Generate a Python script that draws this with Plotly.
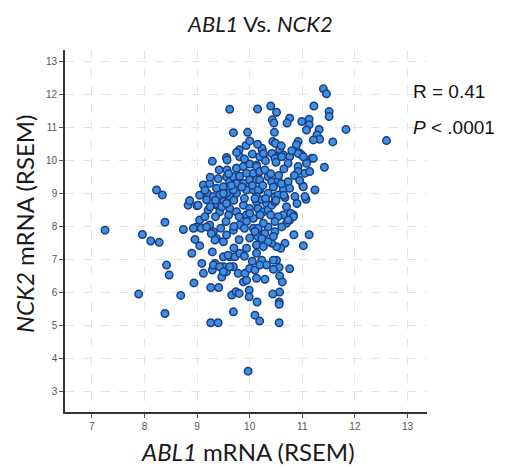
import plotly.graph_objects as go

# (ABL1, NCK2) mRNA RSEM values
outer_points = [
    (9.62, 11.56), (9.69, 10.85), (9.96, 10.86), (9.80, 10.33), (9.93, 10.46), (9.81, 10.12),
    (9.56, 10.10), (9.57, 10.02), (9.29, 9.98), (9.42, 9.72), (9.57, 9.72), (9.75, 9.77),
    (9.56, 9.51), (9.62, 9.36), (9.12, 9.26), (9.24, 9.31), (9.19, 9.01), (9.37, 9.16),
    (9.50, 9.21), (8.23, 9.11), (8.34, 8.96), (8.86, 8.78), (8.83, 8.65), (9.00, 8.63),
    (9.21, 8.50), (8.39, 8.13), (7.25, 7.89), (7.96, 7.76), (8.12, 7.56), (8.28, 7.52),
    (8.74, 7.91), (8.99, 7.99), (8.96, 7.61), (8.90, 7.19), (9.05, 7.42), (8.42, 6.83),
    (8.47, 6.53), (9.09, 6.88), (9.12, 6.58), (8.94, 6.29), (9.29, 7.23), (9.34, 6.88),
    (9.29, 6.68), (9.26, 6.15), (9.41, 6.15), (7.89, 5.95), (8.69, 5.91), (8.39, 5.36),
    (9.26, 5.08), (9.40, 5.08), (9.69, 5.41), (9.66, 5.92), (9.74, 6.02), (9.80, 5.97),
    (9.88, 6.32), (9.94, 6.37), (9.99, 6.07), (9.99, 5.87), (9.50, 7.08), (9.62, 7.08),
    (9.50, 6.78), (9.56, 6.63), (9.47, 6.47), (9.69, 6.78), (9.97, 3.61), (10.10, 5.31),
    (10.19, 5.13), (10.56, 5.08), (10.14, 5.71), (10.56, 5.71), (10.56, 5.64), (10.57, 6.01),
    (10.44, 5.95), (10.29, 6.40), (10.57, 6.50), (10.62, 6.32), (10.76, 6.72), (10.51, 6.98),
    (10.56, 6.76), (10.45, 6.70), (10.84, 7.75), (11.13, 7.75), (11.02, 7.42), (10.67, 7.49),
    (10.59, 7.34), (10.51, 7.39), (10.42, 7.49), (10.83, 8.35), (10.64, 8.35), (10.76, 8.20),
    (11.07, 8.83), (11.01, 9.23), (11.42, 9.80), (11.40, 12.18), (11.46, 12.03), (10.40, 11.66),
    (10.15, 11.57), (11.22, 11.66), (11.51, 11.49), (11.51, 11.34), (10.51, 11.47), (10.43, 11.24),
    (10.46, 11.14), (10.76, 11.29), (10.71, 11.14), (10.99, 11.19), (11.13, 11.26), (11.13, 11.09),
    (11.08, 10.93), (11.32, 10.95), (11.28, 10.78), (11.33, 10.65), (11.21, 10.63), (11.83, 10.95),
    (12.60, 10.61), (11.58, 10.57), (10.47, 10.86), (10.44, 10.58), (10.49, 10.53), (10.92, 10.58),
    (10.89, 10.48), (10.24, 10.33), (10.26, 10.17), (10.57, 10.33), (10.64, 10.17), (10.51, 10.12),
    (10.94, 10.24), (10.99, 10.17), (11.18, 10.07), (11.08, 9.92), (10.19, 10.12),
]

core_points = [
    (9.75, 9.77), (9.88, 9.82), (10.00, 9.90), (10.13, 9.87), (9.69, 9.51), (9.81, 9.53),
    (9.94, 9.62), (10.07, 9.62), (10.19, 9.67), (9.75, 9.31), (9.88, 9.31), (10.00, 9.41),
    (10.13, 9.41), (9.50, 8.91), (9.62, 8.91), (9.75, 9.01), (9.94, 9.11), (10.07, 9.11),
    (10.19, 9.11), (10.23, 10.38), (10.26, 10.22), (10.42, 10.22), (10.48, 10.07), (10.61, 10.12),
    (10.76, 10.12), (10.92, 10.22), (11.02, 10.12), (11.21, 10.07), (10.92, 9.82), (10.73, 9.92),
    (10.92, 9.67), (11.05, 9.62), (11.14, 9.67), (10.13, 9.82), (10.19, 9.67), (10.29, 9.72),
    (10.35, 9.51), (10.19, 9.41), (10.42, 9.36), (10.54, 9.41), (10.73, 9.36), (10.64, 9.11),
    (10.76, 9.16), (11.02, 9.21), (11.24, 9.11), (10.16, 9.11), (10.35, 9.01), (10.48, 8.91),
    (10.86, 8.91), (11.05, 8.91), (8.86, 8.78), (9.02, 8.65), (9.18, 8.81), (9.37, 8.65),
    (9.43, 8.45), (9.50, 8.75), (9.62, 8.55), (9.75, 8.45), (9.88, 8.65), (10.00, 8.55),
    (10.13, 8.75), (10.19, 8.45), (9.94, 8.35), (10.07, 8.25), (9.05, 8.20), (9.08, 7.95),
    (8.93, 7.95), (9.24, 8.05), (9.31, 7.84), (9.37, 7.64), (9.50, 7.54), (9.59, 7.13),
    (9.72, 7.08), (9.81, 7.19), (9.94, 7.34), (10.13, 7.44), (9.56, 7.74), (9.69, 7.89),
    (9.81, 8.05), (9.94, 8.15), (10.07, 7.95), (10.16, 7.74), (9.31, 6.83), (9.43, 6.78),
    (9.50, 6.63), (9.62, 6.78), (9.78, 6.58), (9.91, 6.58), (10.00, 6.73), (10.10, 6.68),
    (10.13, 8.91), (10.23, 8.81), (10.32, 8.70), (10.16, 8.55), (10.26, 8.45), (10.35, 8.50),
    (10.42, 8.65), (10.48, 8.75), (10.54, 8.96), (10.67, 8.88), (10.78, 8.40), (10.83, 8.30),
    (10.70, 8.10), (10.73, 8.20), (10.54, 8.30), (10.48, 8.15), (10.61, 7.99), (10.35, 7.99),
    (10.16, 7.95), (10.26, 8.10), (10.48, 7.84), (10.29, 7.79), (10.16, 7.69), (10.35, 7.54),
    (10.26, 7.39), (10.23, 7.64), (10.13, 7.19), (10.23, 6.98), (10.32, 6.83), (10.45, 6.98),
    (10.19, 6.83), (10.13, 6.43), (9.37, 8.70), (9.47, 8.60), (9.56, 8.70), (9.18, 7.99),
    (9.27, 7.79), (9.34, 7.59), (9.31, 8.91), (9.43, 8.96), (9.56, 9.01), (9.69, 9.11),
]

fill_points = [
    (9.65, 9.25), (9.85, 9.20), (10.05, 9.25), (10.25, 9.25), (10.45, 9.20), (10.60, 9.30),
    (9.70, 8.80), (9.90, 8.85), (10.10, 8.85), (10.30, 8.85), (10.50, 8.80), (9.60, 8.35),
    (9.80, 8.30), (10.00, 8.40), (10.20, 8.35), (10.40, 8.35), (9.70, 8.00), (9.90, 7.95),
    (10.10, 7.85), (10.45, 7.70), (9.45, 7.95), (9.55, 8.15), (9.35, 8.30), (9.25, 8.60),
    (9.15, 8.30), (9.80, 7.60), (10.00, 7.65), (9.70, 7.35), (9.90, 7.10), (10.05, 6.95),
    (10.40, 9.60), (10.55, 9.55), (10.65, 9.75), (10.85, 9.55), (10.30, 10.00), (10.50, 9.95),
    (9.40, 9.45), (9.25, 9.50), (9.50, 9.00), (9.35, 8.80), (9.05, 8.95), (9.15, 9.10),
    (10.70, 8.60), (10.90, 8.70), (10.65, 8.95), (10.95, 9.40), (10.80, 10.30), (10.60, 10.45),
    (9.60, 9.60), (9.75, 10.25), (9.90, 10.05), (10.05, 10.20), (10.15, 10.50), (10.00, 10.60),
]

all_points = outer_points + core_points + fill_points
abl1 = [p[0] for p in all_points]
nck2 = [p[1] for p in all_points]

x_ticks = [7, 8, 9, 10, 11, 12, 13]
y_ticks = [3, 4, 5, 6, 7, 8, 9, 10, 11, 12, 13]

fig = go.Figure()
fig.add_trace(go.Scatter(
    x=abl1, y=nck2, mode="markers",
    marker=dict(size=7.5, color="rgb(62,142,226)",
                line=dict(color="rgb(28,62,128)", width=1.5)),
    hoverinfo="skip", showlegend=False,
))

axis_common = dict(
    showgrid=True, gridcolor="#e4e4e4", griddash="dash", gridwidth=1,
    zeroline=False, showline=True, linecolor="#333333", linewidth=1.6,
    ticks="outside", ticklen=4, tickcolor="#555555", tickwidth=1,
    tickfont=dict(family="Liberation Sans, Arial", size=10, color="#555555"),
    automargin=False,
)

fig.update_xaxes(range=[6.49, 13.37], tickvals=x_ticks, **axis_common)
fig.update_yaxes(range=[2.37, 13.36], tickvals=y_ticks, **axis_common)

# The page body has an 8px margin, so the figure is made 8px smaller and
# its margins shifted so that the plot area sits where the reference has it.
fig.update_layout(
    width=513, height=461,
    margin=dict(l=57, r=94, t=42, b=57),
    paper_bgcolor="white", plot_bgcolor="white",
    annotations=[
        dict(text="<i>ABL1</i> Vs. <i>NCK2</i>", xref="paper", yref="paper",
             x=0.54, y=1.072, showarrow=False, xanchor="center", yanchor="middle",
             font=dict(family="Lato", size=22, color="#1a1a1a")),
        dict(text="<i>ABL1</i> mRNA (RSEM)", xref="paper", yref="paper",
             x=0.505, y=-0.11, showarrow=False, xanchor="center", yanchor="middle",
             font=dict(family="Lato", size=24, color="#1a1a1a")),
        dict(text="<i>NCK2</i> mRNA (RSEM)", xref="paper", yref="paper",
             x=-0.11, y=0.52, showarrow=False, xanchor="center", yanchor="middle",
             textangle=-90,
             font=dict(family="Lato", size=24, color="#1a1a1a")),
        dict(text="R = 0.41", xref="paper", yref="paper",
             x=0.955, y=0.884, showarrow=False, xanchor="left", yanchor="middle",
             font=dict(family="Liberation Sans, Arial", size=19, color="#111111")),
        dict(text="<i>P</i> < .0001", xref="paper", yref="paper",
             x=0.955, y=0.787, showarrow=False, xanchor="left", yanchor="middle",
             font=dict(family="Liberation Sans, Arial", size=19, color="#111111")),
    ],
)

fig.write_html("out.html")
